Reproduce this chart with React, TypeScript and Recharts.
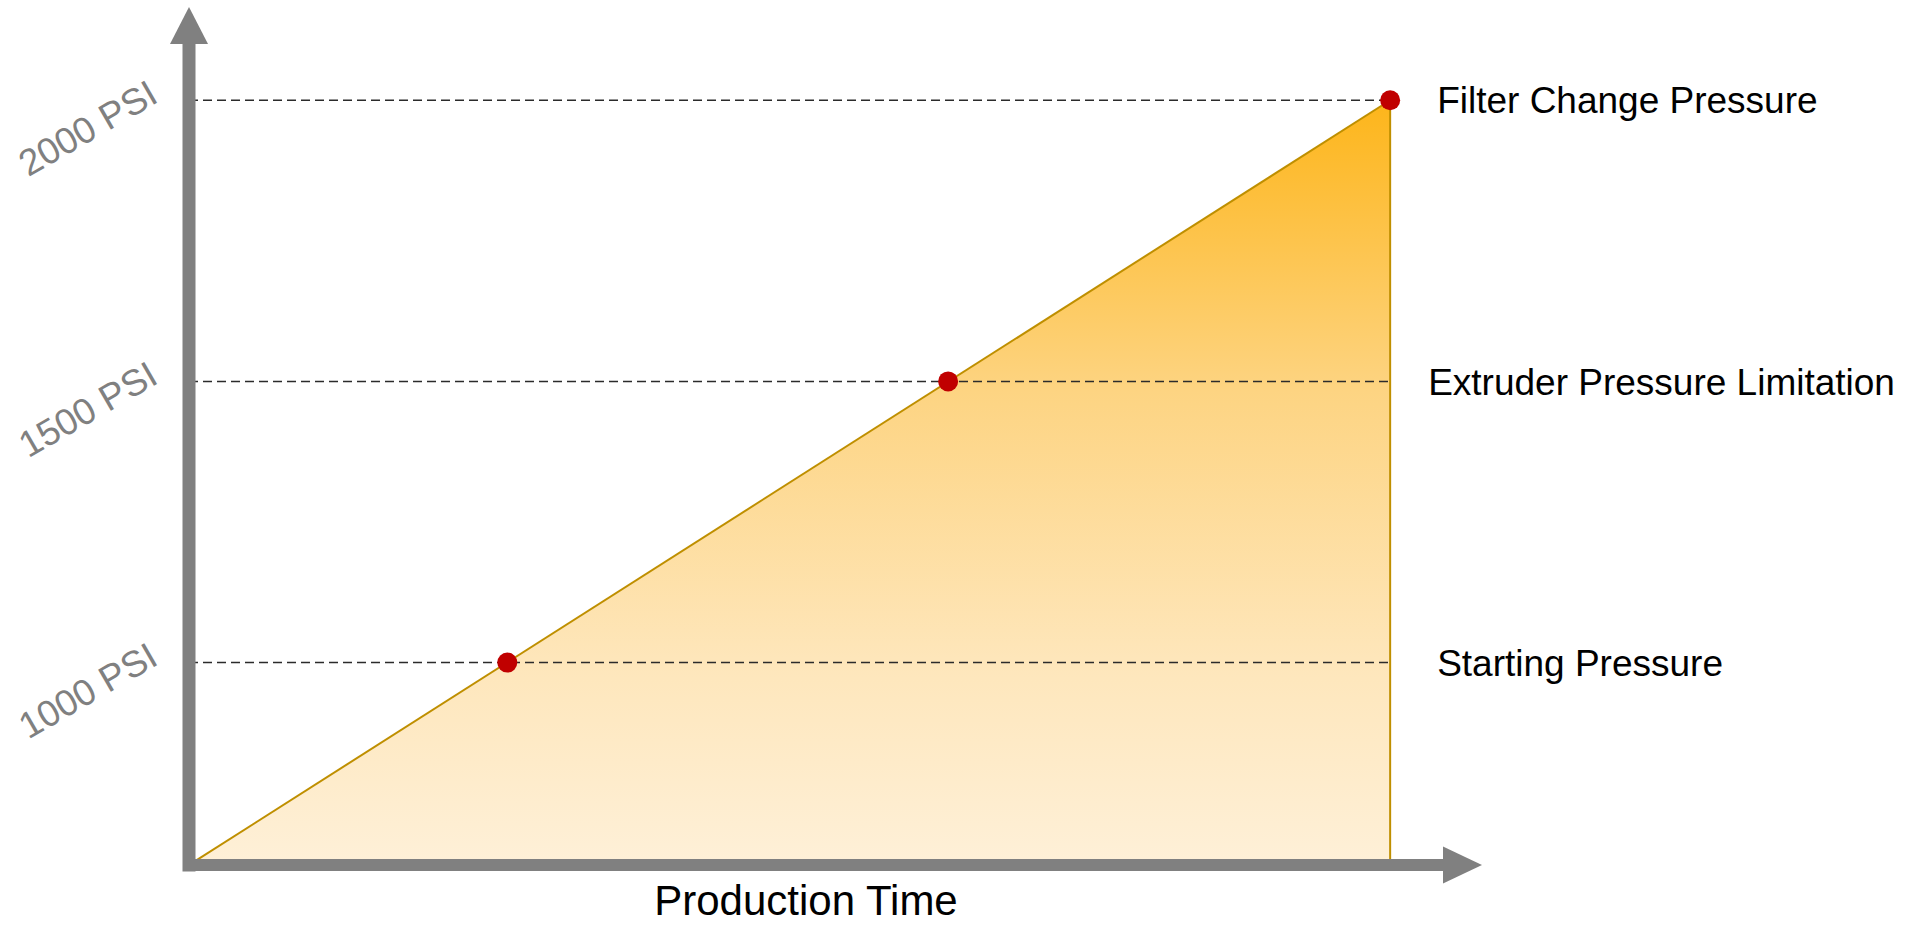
import { ComposedChart, Area, XAxis, YAxis, ReferenceLine, ReferenceDot, Label } from "recharts";

// production time (arbitrary units) vs. head pressure in PSI
const times = [0, 100];
const pressures = [640, 2000];

// the three marked pressure levels
const levelPressures = [1000, 1500, 2000];
const levelTimes = [26.5, 63.2, 100];
const levelNames = ["Starting Pressure", "Extruder Pressure Limitation", "Filter Change Pressure"];
const tickLabels = ["1000 PSI", "1500 PSI", "2000 PSI"];

const xLabel = "Production Time";

const chartData = times.map((t, i) => ({ t, p: pressures[i] }));

const FONT = "'Liberation Sans', Arial, sans-serif";
const AXIS_GRAY = "#808080";
const LINE_GOLD = "#BF8F00";
const DOT_RED = "#C00000";
const X_MAX = 104.4;
const Y_MIN = 640;
const Y_MAX = 2100;

// small per-label nudges so the right hand texts line up like the original
const labelOffsets = [47, 38, 47];

const PsiTick = (props: any) => {
  const { x, y, payload } = props;
  const idx = levelPressures.indexOf(payload.value);
  const ax = x - 29;
  const ay = y + 1;
  return (
    <text
      x={ax}
      y={ay}
      textAnchor="end"
      fill={AXIS_GRAY}
      fontSize={37}
      fontFamily={FONT}
      transform={`rotate(-30 ${ax} ${ay})`}
    >
      {tickLabels[idx]}
    </text>
  );
};

const UpArrow = (props: any) => {
  const { cx, cy } = props;
  return <polygon points={`${cx},${cy - 37} ${cx - 19},${cy} ${cx + 19},${cy}`} fill={AXIS_GRAY} />;
};

const RightArrow = (props: any) => {
  const { cx, cy } = props;
  return <polygon points={`${cx + 39},${cy} ${cx},${cy - 18.5} ${cx},${cy + 18.5}`} fill={AXIS_GRAY} />;
};

export default function App() {
  return (
    <div style={{ position: "absolute", left: 0, top: 0, width: 1918, height: 925, background: "#fff" }}>
      <ComposedChart
        width={1918}
        height={925}
        data={chartData}
        margin={{ top: 44, right: 475, left: 0, bottom: 0 }}
      >
        <defs>
          <linearGradient id="pressureFill" x1="0" y1="0" x2="0" y2="1">
            <stop offset="0%" stopColor="#FDB51A" />
            <stop offset="38%" stopColor="#FDD482" />
            <stop offset="73%" stopColor="#FEE6BA" />
            <stop offset="100%" stopColor="#FEF0D8" />
          </linearGradient>
        </defs>
        <Area
          type="linear"
          dataKey="p"
          stroke={LINE_GOLD}
          strokeWidth={2}
          fill="url(#pressureFill)"
          fillOpacity={1}
          dot={false}
          activeDot={false}
          isAnimationActive={false}
        />
        <ReferenceLine
          segment={[
            { x: times[times.length - 1], y: Y_MIN },
            { x: times[times.length - 1], y: pressures[pressures.length - 1] },
          ]}
          stroke={LINE_GOLD}
          strokeWidth={2}
          ifOverflow="visible"
        />
        {levelPressures.map((p, i) => (
          <ReferenceLine
            key={p}
            segment={[
              { x: 0, y: p },
              { x: levelTimes[levelTimes.length - 1], y: p },
            ]}
            stroke="#2b2b2b"
            strokeWidth={1.5}
            strokeDasharray="9 5"
            ifOverflow="visible"
            label={{
              value: levelNames[i],
              position: "right",
              offset: labelOffsets[i],
              fill: "#000",
              fontSize: 37,
              fontFamily: FONT,
            }}
          />
        ))}
        <XAxis
          type="number"
          dataKey="t"
          domain={[0, X_MAX]}
          allowDataOverflow
          tick={false}
          tickLine={false}
          height={60}
          axisLine={{ stroke: AXIS_GRAY, strokeWidth: 12, strokeLinecap: "square" }}
        >
          <Label
            content={({ viewBox }: any) => (
              <text
                x={viewBox.x + viewBox.width / 2 - 10}
                y={viewBox.y + 50}
                textAnchor="middle"
                fill="#000"
                fontSize={42}
                fontFamily={FONT}
              >
                {xLabel}
              </text>
            )}
          />
        </XAxis>
        <YAxis
          type="number"
          domain={[Y_MIN, Y_MAX]}
          allowDataOverflow
          ticks={levelPressures}
          interval={0}
          width={189}
          tickSize={0}
          tickMargin={0}
          tickLine={false}
          tick={<PsiTick />}
          axisLine={{ stroke: AXIS_GRAY, strokeWidth: 13, strokeLinecap: "square" }}
        />
        <ReferenceDot x={0} y={Y_MAX} ifOverflow="visible" shape={<UpArrow />} />
        <ReferenceDot x={X_MAX} y={Y_MIN} ifOverflow="visible" shape={<RightArrow />} />
        {levelPressures.map((p, i) => (
          <ReferenceDot
            key={`dot-${p}`}
            x={levelTimes[i]}
            y={p}
            r={10}
            fill={DOT_RED}
            stroke="none"
            ifOverflow="visible"
          />
        ))}
      </ComposedChart>
    </div>
  );
}
